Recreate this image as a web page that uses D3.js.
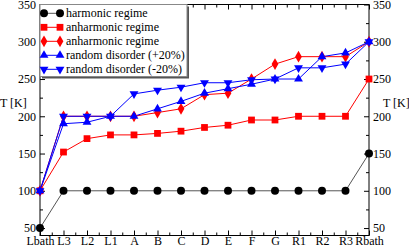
<!DOCTYPE html>
<html>
<head>
<meta charset="utf-8">
<script src="https://cdn.jsdelivr.net/npm/d3@7"></script>
<style>
  body { margin: 0; background: #fff; }
  svg { display: block; }
  .axis path, .axis line { stroke: #000; }
</style>
</head>
<body>
<div id="chart"></div>
<script>
// Data
const categories = ["Lbath", "L3", "L2", "L1", "A", "B", "C", "D", "E", "F", "G", "R1", "R2", "R3", "Rbath"];
const harmonic = [50, 100, 100, 100, 100, 100, 100, 100, 100, 100, 100, 100, 100, 100, 150];
const anharmonicSq = [100, 152, 170, 175, 175, 177, 180, 185, 188, 195, 195, 200, 200, 200, 250];
const anharmonicDia = [100, 200, 200, 200, 200, 205, 210, 229, 231, 250, 270, 280, 280, 280, 300];
const disorderPlus = [100, 190, 192, 200, 200, 210, 220, 231, 237, 243, 250, 250, 280, 285, 300];
const disorderMinus = [100, 200, 200, 200, 230, 235, 239, 245, 245, 249, 250, 265, 265, 270, 300];
const yTicks = [50, 100, 150, 200, 250, 300, 350];
const yMinor = [75, 125, 175, 225, 275, 325];

const series = [
  { name: "harmonic regime", values: harmonic, color: "#000", line: "#555", symbol: d3.symbolCircle, size: 50, rot: 0 },
  { name: "anharmonic regime", values: anharmonicSq, color: "#ff0000", line: "#ff0000", symbol: d3.symbolSquare, size: 46, rot: 0 },
  { name: "anharmonic regime", values: anharmonicDia, color: "#ff0000", line: "#ff0000", symbol: d3.symbolDiamond, size: 40, rot: 0 },
  { name: "random disorder (+20%)", values: disorderPlus, color: "#0000ff", line: "#0000ff", symbol: d3.symbolTriangle, size: 34, rot: 0 },
  { name: "random disorder (-20%)", values: disorderMinus, color: "#0000ff", line: "#0000ff", symbol: d3.symbolTriangle, size: 34, rot: 180 },
];

const FONT = '"Liberation Serif", "Times New Roman", serif';

// Dimensions
const dims = { width: 409, height: 248, left: 40, right: 369, top: 4.5, bottom: 235.5 };

const svg = d3.select("#chart").append("svg")
  .attr("width", dims.width).attr("height", dims.height);

// Scales
const xScale = d3.scalePoint().domain(categories).range([dims.left, dims.right]);
const xIdx = d3.scaleLinear().domain([0, categories.length - 1]).range([dims.left, dims.right]);
const yScale = d3.scaleLinear().domain([40, 350]).range([dims.bottom, dims.top]);

// Frame
svg.append("rect")
  .attr("x", dims.left).attr("y", dims.top)
  .attr("width", dims.right - dims.left).attr("height", dims.bottom - dims.top)
  .attr("fill", "none").attr("stroke", "#000");

// Axes (ticks inward)
const minorX = d3.range(0.5, categories.length - 1, 1);
const noDomain = g => g.select(".domain").remove();

svg.append("g").attr("class", "axis")
  .attr("transform", `translate(0,${dims.bottom})`)
  .call(d3.axisBottom(xScale).tickSize(-5).tickPadding(1))
  .call(noDomain);
svg.append("g").attr("class", "axis")
  .attr("transform", `translate(0,${dims.bottom})`)
  .call(d3.axisBottom(xIdx).tickValues(minorX).tickSize(-3).tickFormat(""))
  .call(noDomain);
svg.append("g").attr("class", "axis")
  .attr("transform", `translate(0,${dims.top})`)
  .call(d3.axisTop(xScale).tickSize(-5).tickFormat(""))
  .call(noDomain);
svg.append("g").attr("class", "axis")
  .attr("transform", `translate(0,${dims.top})`)
  .call(d3.axisTop(xIdx).tickValues(minorX).tickSize(-3).tickFormat(""))
  .call(noDomain);

svg.append("g").attr("class", "axis")
  .attr("transform", `translate(${dims.left},0)`)
  .call(d3.axisLeft(yScale).tickValues(yTicks).tickSize(-5).tickPadding(4))
  .call(noDomain);
svg.append("g").attr("class", "axis")
  .attr("transform", `translate(${dims.left},0)`)
  .call(d3.axisLeft(yScale).tickValues(yMinor).tickSize(-3).tickFormat(""))
  .call(noDomain);
svg.append("g").attr("class", "axis")
  .attr("transform", `translate(${dims.right},0)`)
  .call(d3.axisRight(yScale).tickValues(yTicks).tickSize(-5).tickPadding(4))
  .call(noDomain);
svg.append("g").attr("class", "axis")
  .attr("transform", `translate(${dims.right},0)`)
  .call(d3.axisRight(yScale).tickValues(yMinor).tickSize(-3).tickFormat(""))
  .call(noDomain);

// Axis titles
svg.append("text").attr("x", 0).attr("y", 107).text("T [K]");
svg.append("text").attr("x", 383).attr("y", 107).text("T [K]");

// Lines and markers
const line = d3.line()
  .x((d, i) => xScale(categories[i]))
  .y(d => yScale(d));

const plot = svg.append("g");
series.forEach(s => {
  plot.append("path")
    .attr("d", line(s.values))
    .attr("fill", "none")
    .attr("stroke", s.line)
    .attr("stroke-width", 1);
});
series.forEach(s => {
  plot.append("g").selectAll("path")
    .data(s.values)
    .join("path")
    .attr("d", d3.symbol().type(s.symbol).size(s.size))
    .attr("transform", (d, i) => `translate(${xScale(categories[i])},${yScale(d)}) rotate(${s.rot})`)
    .attr("fill", s.color);
});

// Legend
const legend = svg.append("g");
legend.append("rect")
  .attr("x", dims.left + 2).attr("y", dims.top + 2)
  .attr("width", 147).attr("height", 72)
  .attr("fill", "#555");
legend.append("rect")
  .attr("x", dims.left).attr("y", dims.top)
  .attr("width", 147).attr("height", 72)
  .attr("fill", "#fff").attr("stroke", "#888");

const rows = legend.selectAll("g.row")
  .data(series)
  .join("g")
  .attr("class", "row")
  .attr("transform", (d, i) => `translate(0,${13.3 + i * 14})`);
rows.append("line")
  .attr("x1", 44).attr("x2", 60)
  .attr("stroke", d => d.line);
rows.each(function (s) {
  d3.select(this).selectAll("path")
    .data([44, 60])
    .join("path")
    .attr("d", d3.symbol().type(s.symbol).size(s.size))
    .attr("transform", x => `translate(${x},0) rotate(${s.rot})`)
    .attr("fill", s.color);
});
rows.append("text")
  .attr("x", 66).attr("y", 4)
  .text(d => d.name);

// Serif font on every text
svg.selectAll("text")
  .style("font-family", FONT)
  .style("font-size", "12px")
  .style("fill", "#000");
</script>
</body>
</html>
